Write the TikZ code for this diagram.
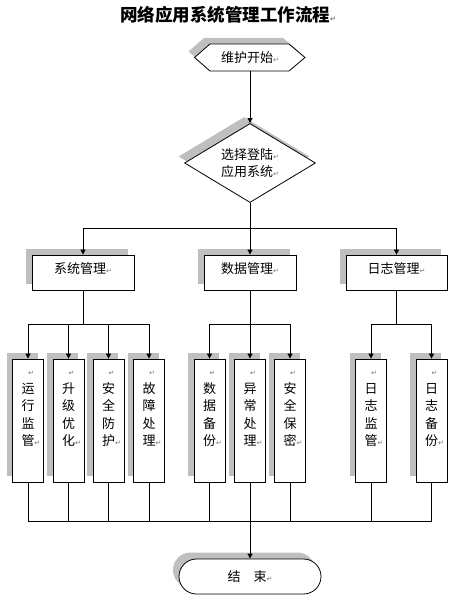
\documentclass[tikz,border=0pt]{standalone}
\usepackage{fontspec}
\setmainfont{Noto Sans CJK SC}
\newfontfamily\markfont{DejaVu Sans}
\usetikzlibrary{arrows.meta,shapes.geometric,shapes.misc,shadows,calc}
\newcommand\mk{{\markfont\fontsize{7}{7}\selectfont\textcolor{black!55}{↵}}}
\newcommand\rmk{\makebox[0pt][l]{\mk}}
\begin{document}
\begin{tikzpicture}[x=1pt,y=-1pt,
  line/.style={line width=0.8pt, draw=black},
  arr/.style={line, -{Triangle[length=5pt,width=5pt]}},
  shad/.style={general shadow={fill=gray!50, draw=none, shadow xshift=-6pt, shadow yshift=6.5pt}},
  box/.style={rectangle, draw, line width=0.8pt, fill=white, shad, inner sep=0pt, font=\fontsize{13}{17}\selectfont},
  midbox/.style={box, minimum height=35pt, text height=10pt, text depth=9pt},
  leafbox/.style={box, minimum width=31pt, minimum height=123pt},
  leaftext/.style={align=center, inner sep=0pt, font=\fontsize{13}{17.5}\selectfont}
]
\useasboundingbox (0,0) rectangle (473,610);

% title
\node[font=\bfseries\fontsize{17.5}{20}\selectfont, inner sep=0pt] (title) at (228,15) {网络应用系统管理工作流程\mk};

% start hexagon (drawn directly), with shadow
\fill[gray!50] (188.5,51.5) -- (204,38) -- (283,38) -- (299,51.5) -- (283,65) -- (204,65) -- cycle;
\filldraw[line, fill=white] (194.5,57.5) -- (210,44) -- (289,44) -- (305,57.5) -- (289,71) -- (210,71) -- cycle;
\node[minimum width=111pt, minimum height=27pt, inner sep=0pt, font=\fontsize{13}{17}\selectfont] (start) at (250,57.5) {维护开始\mk};

% decision
\node[diamond, draw, line width=0.8pt, fill=white, shad, minimum width=131pt, minimum height=79pt, inner sep=0pt, aspect=1.66, align=center, font=\fontsize{13}{17}\selectfont] (dia) at (250,163) {选择登陆\mk\\应用系统\mk};

% second level
\node[midbox, minimum width=102pt] (sys) at (83,272.5) {系统管理\mk};
\node[midbox, minimum width=92pt] (dat) at (250,272.5) {数据管理\mk};
\node[midbox, minimum width=101pt] (log) at (396.5,272.5) {日志管理\mk};

% leaves
\foreach \n/\x/\a/\b/\c/\d in {s1/28/运/行/监/管, s2/68.5/升/级/优/化, s3/108.5/安/全/防/护, s4/149/故/障/处/理,
  d1/209.5/数/据/备/份, d2/250/异/常/处/理, d3/290/安/全/保/密, g1/371/日/志/监/管, g2/431.5/日/志/备/份}{
  \node[leafbox] (\n) at (\x,420.5) {};
  \node[leaftext] (\n t) at (\x,409) {\rmk\\\a\\\b\\\c\\\d\rmk};
}

% end terminal
\node[rounded rectangle, draw, line width=0.8pt, fill=white, shad, minimum width=142pt, minimum height=35pt, inner sep=0pt, font=\fontsize{13}{17}\selectfont] (end) at (250,576.5) {结\hspace{13pt}束\mk};

% connectors
\coordinate (j1) at (250,228);
\coordinate (j2) at (83,324);
\coordinate (j3) at (250,324);
\coordinate (j4) at (396.5,324);
\coordinate (j5) at (250,521);

\draw[arr] (start.south) -- (dia.north);
\draw[line] (dia.south) -- (j1);
\draw[arr] (j1) -| (sys.north);
\draw[arr] (j1) -- (dat.north);
\draw[arr] (j1) -| (log.north);

\draw[line] (sys.south) -- (j2);
\foreach \n in {s1,s2,s3,s4}{\draw[arr] (j2) -| (\n.north);}
\draw[line] (dat.south) -- (j3);
\foreach \n in {d1,d3}{\draw[arr] (j3) -| (\n.north);}
\draw[arr] (j3) -- (d2.north);
\draw[line] (log.south) -- (j4);
\foreach \n in {g1,g2}{\draw[arr] (j4) -| (\n.north);}

\draw[line] (s1.south) |- (j5);
\draw[line] (g2.south) |- (j5);
\foreach \n in {s2,s3,s4,d1,d3,g1}{\draw[line] (\n.south) -- (\n.south |- j5);}
\draw[arr] (d2.south) -- (end.north);
\end{tikzpicture}
\end{document}
